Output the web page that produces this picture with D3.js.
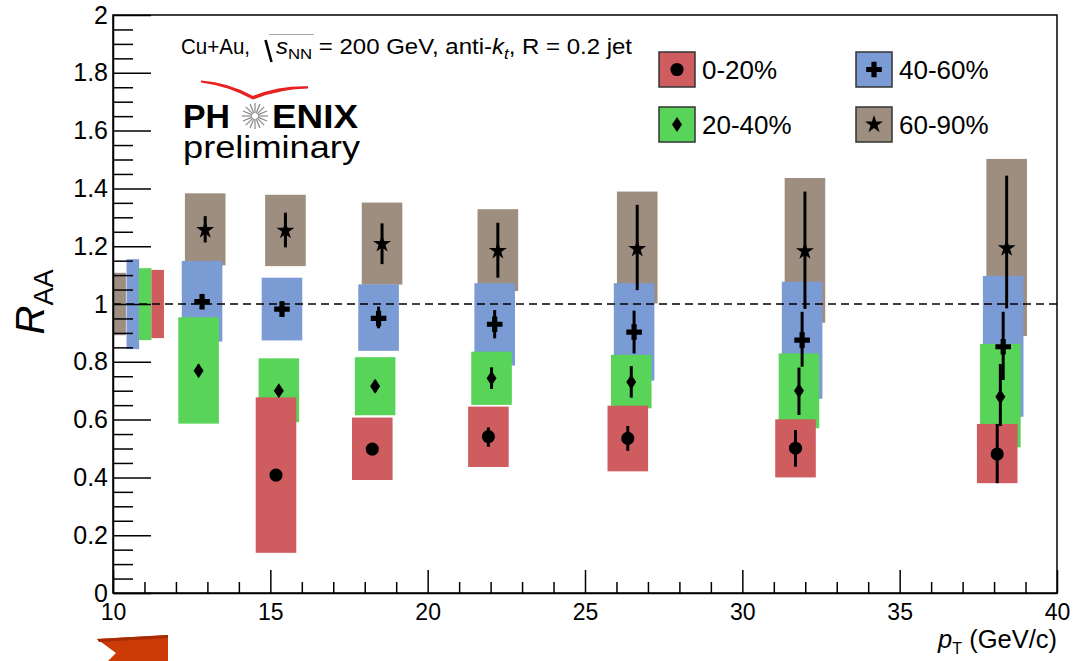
<!DOCTYPE html>
<html>
<head>
<meta charset="utf-8">
<script src="https://cdn.jsdelivr.net/npm/d3@7"></script>
<style>
html,body{margin:0;padding:0;background:#fff;}
svg{display:block;}
text{font-family:"Liberation Sans",Arial,Helvetica,sans-serif;}
</style>
</head>
<body>
<svg id="chart" width="1074" height="661"></svg>
<script>
// ---------------- DATA ----------------
const xTicks = [10, 15, 20, 25, 30, 35, 40];
const yTicks = [0, 0.2, 0.4, 0.6, 0.8, 1, 1.2, 1.4, 1.6, 1.8, 2];
const centralities = ["0-20%", "20-40%", "40-60%", "60-90%"];

// 60-90% (star)
const ptStar   = [12.93, 15.48, 18.55, 22.23, 26.66, 31.99, 38.40];
const raaStar  = [1.256, 1.254, 1.208, 1.184, 1.191, 1.183, 1.193];
const statLoStar = [1.213, 1.196, 1.138, 1.091, 1.048, 0.983, 0.985];
const statHiStar = [1.304, 1.316, 1.279, 1.281, 1.343, 1.389, 1.444];
const sysLoStar  = [1.134, 1.131, 1.067, 1.045, 1.002, 0.935, 0.889];
const sysHiStar  = [1.383, 1.378, 1.351, 1.328, 1.389, 1.436, 1.502];

// 40-60% (cross)
const ptCross   = [12.83, 15.37, 18.44, 22.13, 26.56, 31.90, 38.29];
const raaCross  = [1.008, 0.982, 0.950, 0.930, 0.903, 0.875, 0.852];
const statLoCross = [0.985, 0.955, 0.916, 0.881, 0.829, 0.783, 0.737];
const statHiCross = [1.035, 1.010, 0.991, 0.979, 0.977, 0.973, 0.973];
const sysLoCross  = [0.870, 0.874, 0.838, 0.787, 0.735, 0.672, 0.610];
const sysHiCross  = [1.149, 1.091, 1.068, 1.072, 1.072, 1.077, 1.097];

// 20-40% (diamond)
const ptDiamond   = [12.72, 15.27, 18.33, 22.03, 26.47, 31.80, 38.20];
const raaDiamond  = [0.769, 0.700, 0.715, 0.743, 0.730, 0.700, 0.679];
const statLoDiamond = [0.750, 0.685, 0.695, 0.706, 0.676, 0.616, 0.578];
const statHiDiamond = [0.790, 0.715, 0.735, 0.781, 0.785, 0.780, 0.792];
const sysLoDiamond  = [0.586, 0.591, 0.615, 0.651, 0.639, 0.570, 0.504];
const sysHiDiamond  = [0.954, 0.812, 0.816, 0.835, 0.824, 0.829, 0.862];

// 0-20% (circle)
const ptCircle   = [15.18, 18.24, 21.93, 26.36, 31.69, 38.10];
const raaCircle  = [0.408, 0.498, 0.541, 0.535, 0.501, 0.481];
const statLoCircle = [0.390, 0.480, 0.506, 0.492, 0.437, 0.380];
const statHiCircle = [0.425, 0.515, 0.573, 0.578, 0.564, 0.585];
const sysLoCircle  = [0.139, 0.391, 0.436, 0.421, 0.400, 0.380];
const sysHiCircle  = [0.677, 0.607, 0.645, 0.648, 0.601, 0.585];

// global normalization uncertainty boxes (brown, blue, green, red)
const normPt = [10.21, 10.63, 11.02, 11.42];
const normLo = [0.892, 0.844, 0.875, 0.882];
const normHi = [1.108, 1.155, 1.124, 1.118];

// ---------------- LAYOUT / STYLE ----------------
const W = 1074, H = 661;
const L = 113, R = 1057, T = 15, B = 593;
const boxW = 1.29;      // systematic box width in pT units
const normW = 0.40;
const colors = {red:"#cf5d60", green:"#58d558", blue:"#7a9bd4", brown:"#9d8e80"};

const svg = d3.select("#chart");
svg.append("rect").attr("width", W).attr("height", H).attr("fill", "#fff");

const x = d3.scaleLinear().domain([10, 40]).range([L, R]);
const y = d3.scaleLinear().domain([0, 2]).range([B, T]);

const series = [
  {key:"star",    color:colors.brown, pt:ptStar,    v:raaStar,    sl:statLoStar,    sh:statHiStar,    yl:sysLoStar,    yh:sysHiStar},
  {key:"cross",   color:colors.blue,  pt:ptCross,   v:raaCross,   sl:statLoCross,   sh:statHiCross,   yl:sysLoCross,   yh:sysHiCross},
  {key:"diamond", color:colors.green, pt:ptDiamond, v:raaDiamond, sl:statLoDiamond, sh:statHiDiamond, yl:sysLoDiamond, yh:sysHiDiamond},
  {key:"circle",  color:colors.red,   pt:ptCircle,  v:raaCircle,  sl:statLoCircle,  sh:statHiCircle,  yl:sysLoCircle,  yh:sysHiCircle}
];
const normColors = [colors.brown, colors.blue, colors.green, colors.red];

// normalization boxes
svg.append("g").selectAll("rect").data(normPt).join("rect")
  .attr("x", (d) => x(d - normW/2))
  .attr("width", (d) => x(d + normW/2) - x(d - normW/2))
  .attr("y", (d,i) => y(normHi[i]))
  .attr("height", (d,i) => y(normLo[i]) - y(normHi[i]))
  .attr("fill", (d,i) => normColors[i]);

// systematic boxes
series.forEach(s => {
  svg.append("g").selectAll("rect").data(s.pt).join("rect")
    .attr("x", d => x(d - boxW/2))
    .attr("width", d => x(d + boxW/2) - x(d - boxW/2))
    .attr("y", (d,i) => y(s.yh[i]))
    .attr("height", (d,i) => y(s.yl[i]) - y(s.yh[i]))
    .attr("fill", s.color);
});

// dashed line at 1
svg.append("line")
  .attr("x1", x(10)).attr("x2", x(40)).attr("y1", y(1)).attr("y2", y(1))
  .attr("stroke", "#000").attr("stroke-width", 1.6).attr("stroke-dasharray", "8,5");

// stat error bars
series.forEach(s => {
  svg.append("g").selectAll("line").data(s.pt).join("line")
    .attr("x1", d => x(d)).attr("x2", d => x(d))
    .attr("y1", (d,i) => y(s.sl[i])).attr("y2", (d,i) => y(s.sh[i]))
    .attr("stroke", "#000").attr("stroke-width", 3);
});

// markers
const markerPath = {
  circle: d3.symbol(d3.symbolCircle, 135)(),
  cross: d3.symbol(d3.symbolCross, 135)(),
  star: d3.symbol(d3.symbolStar, 100)(),
  diamond: "M0,-7.5L5,0L0,7.5L-5,0Z"
};
series.forEach(s => {
  svg.append("g").selectAll("path").data(s.pt).join("path")
    .attr("transform", (d,i) => `translate(${x(d)},${y(s.v[i])})`)
    .attr("d", markerPath[s.key])
    .attr("fill", "#000");
});

// axes
const yMinor = d3.range(0, 2.0001, 0.05).filter(v => Math.abs(v*5 - Math.round(v*5)) > 1e-6);
const xMinor = d3.range(10, 40.001, 1).filter(v => v % 5 !== 0);

const gy = svg.append("g").attr("transform", `translate(${L},0)`);
gy.call(d3.axisLeft(y).tickValues(yMinor).tickSizeInner(-20).tickSizeOuter(0).tickFormat(""));
gy.call(g => g.selectAll(".domain").remove());
const gy2 = svg.append("g").attr("transform", `translate(${L},0)`);
gy2.call(d3.axisLeft(y).tickValues(yTicks).tickSizeInner(-38).tickSizeOuter(0).tickPadding(5)
  .tickFormat(d => String(+d.toFixed(1))));
gy2.selectAll("text").attr("font-size", 25).attr("fill", "#000").attr("font-family", "Liberation Sans, Arial, sans-serif");

const gx = svg.append("g").attr("transform", `translate(0,${B})`);
gx.call(d3.axisBottom(x).tickValues(xMinor).tickSizeInner(-11).tickSizeOuter(0).tickFormat(""));
gx.call(g => g.selectAll(".domain").remove());
const gx2 = svg.append("g").attr("transform", `translate(0,${B})`);
gx2.call(d3.axisBottom(x).tickValues(xTicks).tickSizeInner(-23).tickSizeOuter(0).tickPadding(11)
  .tickFormat(d => String(d)));
gx2.selectAll("text").attr("font-size", 23).attr("fill", "#000").attr("font-family", "Liberation Sans, Arial, sans-serif");

svg.selectAll(".tick line").attr("stroke", "#000").attr("stroke-width", 1.5);
svg.selectAll(".domain").attr("stroke", "#000").attr("stroke-width", 1.5);

// frame
svg.append("rect").attr("x", L).attr("y", T).attr("width", R - L).attr("height", B - T)
  .attr("fill", "none").attr("stroke", "#000").attr("stroke-width", 1.5);

// axis titles
const xt = svg.append("text").attr("x", R).attr("y", 648).attr("text-anchor", "end")
  .attr("font-size", 25.5).attr("fill", "#000");
xt.append("tspan").attr("font-style", "italic").text("p");
xt.append("tspan").attr("font-size", 16).attr("dy", 6).text("T");
xt.append("tspan").attr("dy", -6).text(" (GeV/c)");

const yt = svg.append("text").attr("transform", "translate(44,302) rotate(-90)")
  .attr("text-anchor", "middle").attr("font-size", 40).attr("fill", "#000");
yt.append("tspan").attr("font-style", "italic").text("R");
yt.append("tspan").attr("font-size", 27).attr("dy", 9).text("AA");

// title
svg.append("text").attr("x", 181).attr("y", 54).attr("font-size", 21.5).attr("fill", "#000")
  .attr("textLength", 69).attr("lengthAdjust", "spacingAndGlyphs").text("Cu+Au,");
svg.append("path").attr("d", "M265.5,40 L271.5,62").attr("stroke", "#000").attr("stroke-width", 2.6).attr("fill", "none");
svg.append("line").attr("x1", 269).attr("x2", 314).attr("y1", 34.5).attr("y2", 34.5).attr("stroke", "#aaa").attr("stroke-width", 1);
const tt = svg.append("text").attr("x", 276).attr("y", 54).attr("font-size", 21.5).attr("fill", "#000")
  .attr("textLength", 356).attr("lengthAdjust", "spacingAndGlyphs");
tt.append("tspan").attr("font-style", "italic").text("s");
tt.append("tspan").attr("font-size", 15).attr("dy", 5).text("NN");
tt.append("tspan").attr("dy", -5).text(" = 200 GeV, anti-");
tt.append("tspan").attr("font-style", "italic").text("k");
tt.append("tspan").attr("font-size", 15).attr("font-style", "italic").attr("dy", 5).text("t");
tt.append("tspan").attr("dy", -5).text(", R = 0.2 jet");

// PHENIX logo
svg.append("path")
  .attr("d", "M201,80.5 Q229,82.5 253,96 Q279,85.5 308,86.3 L308,88.6 Q281,89 253,99.5 Q228,86 201,82.5 Z")
  .attr("fill", "#e8201f");
svg.append("text").attr("x", 183).attr("y", 128).attr("font-size", 33).attr("font-weight", "bold").attr("fill", "#000")
  .attr("textLength", 47).attr("lengthAdjust", "spacingAndGlyphs").text("PH");
svg.append("text").attr("x", 272).attr("y", 128).attr("font-size", 33).attr("font-weight", "bold").attr("fill", "#000")
  .attr("textLength", 86).attr("lengthAdjust", "spacingAndGlyphs").text("ENIX");
const burst = svg.append("g").attr("transform", "translate(255,116)");
d3.range(16).forEach(k => {
  const a = k * Math.PI / 8;
  burst.append("line").attr("x1", 3*Math.cos(a)).attr("y1", 3*Math.sin(a))
    .attr("x2", 13*Math.cos(a)).attr("y2", 13*Math.sin(a))
    .attr("stroke", "#8a8a8a").attr("stroke-width", 1.2);
});
svg.append("text").attr("x", 183).attr("y", 158).attr("font-size", 31).attr("fill", "#000")
  .attr("font-family", "DejaVu Sans, sans-serif")
  .attr("textLength", 177).attr("lengthAdjust", "spacingAndGlyphs").text("preliminary");

// legend
const legendItems = [
  {label: centralities[0], color: colors.red,   key: "circle",  lx: 659, ly: 52},
  {label: centralities[2], color: colors.blue,  key: "cross",   lx: 856, ly: 52},
  {label: centralities[1], color: colors.green, key: "diamond", lx: 659, ly: 107},
  {label: centralities[3], color: colors.brown, key: "star",    lx: 856, ly: 107}
];
const lg = svg.append("g").selectAll("g").data(legendItems).join("g")
  .attr("transform", d => `translate(${d.lx},${d.ly})`);
lg.append("rect").attr("width", 36).attr("height", 35).attr("fill", d => d.color)
  .attr("stroke", "#333").attr("stroke-width", 1.5);
lg.append("path").attr("transform", "translate(18,17.5)").attr("d", d => markerPath[d.key]).attr("fill", "#000");
lg.append("text").attr("x", 43).attr("y", 27).attr("font-size", 26).attr("fill", "#000").text(d => d.label);

// orange banner at bottom-left
svg.append("path").attr("d", "M97,639 L168,635 L168,661 L108,661 L116,653 Z")
  .attr("fill", "#cc3a08");
svg.append("path").attr("d", "M97,639 L168,635 L168,638 L99,642 Z").attr("fill", "#a82a00");
</script>
</body>
</html>
